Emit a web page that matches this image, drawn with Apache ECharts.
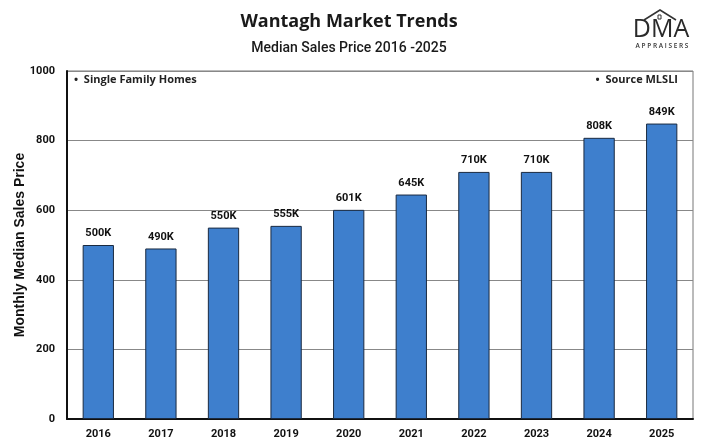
<!DOCTYPE html>
<html><head><meta charset="utf-8">
<script src="https://cdn.jsdelivr.net/npm/echarts@6/dist/echarts.min.js"></script>
<style>html,body{margin:0;padding:0;background:#fff}#c{width:720px;height:448px}</style>
</head><body><div id="c"></div>
<script>
const years = ['2016','2017','2018','2019','2020','2021','2022','2023','2024','2025'];
const prices = [500, 490, 550, 555, 601, 645, 710, 710, 808, 849];
const labels = ['500K','490K','550K','555K','601K','645K','710K','710K','808K','849K'];
const yTicks = [0, 200, 400, 600, 800, 1000];

const chart = echarts.init(document.getElementById('c'));
chart.setOption({
  backgroundColor: '#fff',
  animation: false,
  title: [
    {text: 'Wantagh Market Trends', left: 344, top: 8, textAlign: 'center',
     textStyle: {fontFamily: 'Open Sans', fontWeight: 'bold', fontSize: 18, color: '#1a1a1a'}},
    {text: 'Median Sales Price 2016 -2025', left: 344, top: 36, textAlign: 'center',
     textStyle: {fontFamily: 'Roboto', fontWeight: 500, fontSize: 14, color: '#1a1a1a'}}
  ],
  grid: {left: 67, right: 27, top: 71, bottom: 29, show: true, borderColor: '#777', borderWidth: 1},
  xAxis: {
    type: 'category', data: years,
    axisLine: {lineStyle: {color: '#111', width: 2}},
    axisTick: {show: false},
    axisLabel: {fontFamily: 'Roboto', fontWeight: 'bold', fontSize: 11, color: '#111', margin: 10}
  },
  yAxis: {
    type: 'value', min: 0, max: 1000, interval: 200,
    name: 'Monthly Median Sales Price', nameLocation: 'middle', nameGap: 40, nameMoveOverlap: false,
    nameTextStyle: {fontFamily: 'Liberation Sans', fontWeight: 'bold', fontSize: 14, color: '#111'},
    axisLine: {show: true, lineStyle: {color: '#111', width: 2}},
    axisTick: {show: false},
    axisLabel: {fontFamily: 'Roboto', fontWeight: 'bold', fontSize: 11, color: '#111', margin: 12,
      formatter: v => yTicks.includes(v) ? String(v) : ''},
    splitLine: {lineStyle: {color: '#888', width: 1}}
  },
  series: [{
    type: 'bar', data: prices, barWidth: '50%',
    itemStyle: {color: '#3e7fcd', borderColor: '#1a2a40', borderWidth: 1},
    label: {show: true, position: 'top', distance: 6,
      formatter: p => labels[p.dataIndex],
      fontFamily: 'Roboto', fontWeight: 'bold', fontSize: 11, color: '#111'}
  }],
  graphic: [
    {type: 'text', left: 74, top: 74, style: {text: '•  Single Family Homes', font: 'bold 11px "Open Sans"', fill: '#222'}},
    {type: 'text', right: 42, top: 74, style: {text: '•  Source MLSLI', font: 'bold 11px "Open Sans"', fill: '#222'}},
    {type: 'polyline', shape: {points: [[644,20],[660,10],[676,20]]}, style: {stroke: '#333', lineWidth: 1.5, fill: null}},
    {type: 'rect', shape: {x: 658, y: 15, width: 3, height: 4}, style: {stroke: '#333', lineWidth: 1, fill: null}},
    {type: 'text', x: 661, y: 30, style: {text: 'DMA', font: '500 25px "Open Sans"', fill: '#2a2a2a', align: 'center', verticalAlign: 'middle'}},
    {type: 'text', x: 662, y: 46, style: {text: 'A P P R A I S E R S', font: '600 6.5px "Open Sans"', fill: '#333', align: 'center', verticalAlign: 'middle'}}
  ]
});
</script></body></html>
